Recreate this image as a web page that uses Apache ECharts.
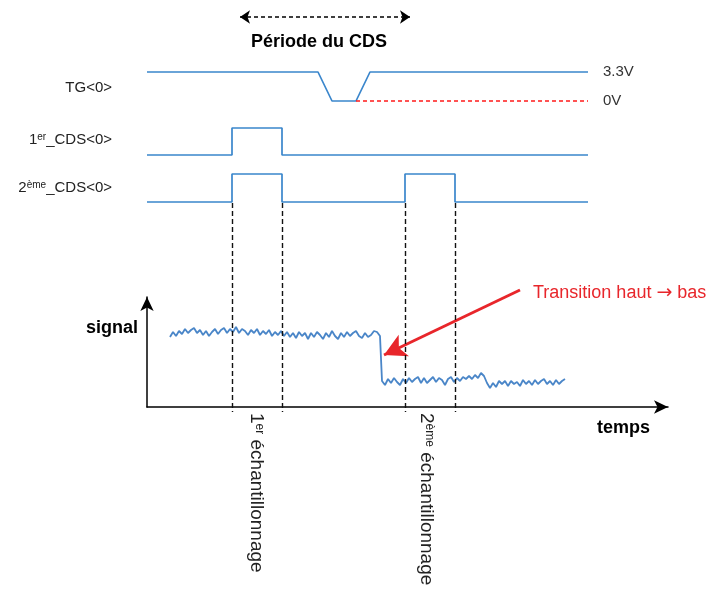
<!DOCTYPE html>
<html>
<head>
<meta charset="utf-8">
<script src="https://cdn.jsdelivr.net/npm/echarts@6/dist/echarts.min.js"></script>
<style>
  html, body { margin: 0; padding: 0; background: #fff; }
  #chart { width: 726px; height: 589px; }
</style>
</head>
<body>
<div id="chart"></div>
<script>
// chronogramme CDS - temps en unités arbitraires (même échelle pour tous les signaux)
var tgTemps = [147, 318, 332, 356, 370, 588];
var tgTension = [3.3, 3.3, 0, 0, 3.3, 3.3];
var zeroRef = [356, 588];

var cds1Temps = [147, 232, 232, 282, 282, 588];
var cds1Etat = [0, 0, 1, 1, 0, 0];

var cds2Temps = [147, 232, 232, 282, 282, 405, 405, 455, 455, 588];
var cds2Etat = [0, 0, 1, 1, 0, 0, 1, 1, 0, 0];

var echantillons = [232, 282, 405, 455];

// signal pixel : niveau haut puis bas, pas de 3
var signalHautDebut = 170;
var signalHaut = [70, 75, 71, 76, 73, 78, 74, 77, 79, 74, 77, 72, 76, 71, 75, 78, 73, 77, 79, 74,
  78, 75, 80, 74, 78, 76, 72, 77, 74, 78, 72, 76, 73, 77, 71, 75, 72, 76, 71, 75,
  70, 74, 69, 75, 71, 74, 68, 74, 70, 75, 72, 68, 74, 70, 76, 71, 68, 74, 70, 75,
  71, 74, 76, 71, 69, 74, 70, 72, 76, 75, 71];
var signalBasDebut = 382;
var signalBas = [26, 22, 28, 24, 29, 25, 22, 28, 24, 29, 25, 28, 30, 24, 29, 24, 27, 30, 25, 29,
  27, 22, 28, 30, 25, 29, 26, 30, 28, 31, 28, 32, 29, 34, 31, 24, 19, 24, 20, 26,
  23, 26, 21, 26, 23, 25, 21, 27, 23, 26, 22, 27, 23, 26, 28, 23, 26, 22, 27, 23,
  26, 28];
var pas = 3;

function paires(xs, ys) {
    return xs.map(function (x, i) { return [x, ys[i]]; });
}

var signalData = [];
signalHaut.forEach(function (v, i) { signalData.push([signalHautDebut + i * pas, v]); });
signalBas.forEach(function (v, i) { signalData.push([signalBasDebut + i * pas, v]); });

var bleu = '#3A86CC';
var rouge = '#E8262B';
var police = '"Liberation Sans", Arial, sans-serif';

var myChart = echarts.init(document.getElementById('chart'));
var option = {
    backgroundColor: '#fff',
    animation: false,
    grid: [
        {left: 0, right: 138, top: 72, height: 29},
        {left: 0, right: 138, top: 128, height: 27},
        {left: 0, right: 138, top: 174, height: 28},
        {left: 147, right: 58, top: 297, height: 110},
        {left: 0, right: 0, top: 0, bottom: 0}
    ],
    xAxis: [
        {gridIndex: 0, type: 'value', min: 0, max: 588, show: false},
        {gridIndex: 1, type: 'value', min: 0, max: 588, show: false},
        {gridIndex: 2, type: 'value', min: 0, max: 588, show: false},
        {
            gridIndex: 3, type: 'value', min: 147, max: 668,
            axisLine: {show: true, symbol: ['none', 'arrow'], symbolSize: [10, 14], lineStyle: {color: '#000', width: 1.5}},
            axisTick: {show: false}, axisLabel: {show: false}, splitLine: {show: false}
        },
        {gridIndex: 4, type: 'value', min: 0, max: 726, show: false}
    ],
    yAxis: [
        {
            gridIndex: 0, type: 'value', min: 0, max: 3.3, interval: 3.3, position: 'right',
            axisLine: {show: false}, axisTick: {show: false}, splitLine: {show: false},
            axisLabel: {
                margin: 15, color: '#333', fontSize: 15, fontFamily: police,
                formatter: function (v) { return v === 0 ? '0V' : '3.3V'; }
            }
        },
        {gridIndex: 1, type: 'value', min: 0, max: 1, show: false},
        {gridIndex: 2, type: 'value', min: 0, max: 1, show: false},
        {
            gridIndex: 3, type: 'value', min: 0, max: 110,
            axisLine: {show: true, symbol: ['none', 'arrow'], symbolSize: [10, 14], lineStyle: {color: '#000', width: 1.5}},
            axisTick: {show: false}, axisLabel: {show: false}, splitLine: {show: false}
        },
        {gridIndex: 4, type: 'value', min: 0, max: 589, inverse: true, show: false}
    ],
    series: [
        {
            name: 'TG<0>', type: 'line', xAxisIndex: 0, yAxisIndex: 0, clip: false,
            data: paires(tgTemps, tgTension), symbol: 'none',
            lineStyle: {color: bleu, width: 1.7}
        },
        {
            name: '0V', type: 'line', xAxisIndex: 0, yAxisIndex: 0, clip: false,
            data: zeroRef.map(function (t) { return [t, 0]; }), symbol: 'none',
            lineStyle: {color: '#FF1A1A', width: 1.5, type: [4, 3]}
        },
        {
            name: '1er_CDS<0>', type: 'line', xAxisIndex: 1, yAxisIndex: 1, clip: false,
            data: paires(cds1Temps, cds1Etat), symbol: 'none',
            lineStyle: {color: bleu, width: 1.7}
        },
        {
            name: '2ème_CDS<0>', type: 'line', xAxisIndex: 2, yAxisIndex: 2, clip: false,
            data: paires(cds2Temps, cds2Etat), symbol: 'none',
            lineStyle: {color: bleu, width: 1.7}
        },
        {
            name: 'signal', type: 'line', xAxisIndex: 3, yAxisIndex: 3, clip: false,
            data: signalData, symbol: 'none',
            lineStyle: {color: '#4A86C8', width: 1.8}
        },
        {
            name: 'annotations', type: 'line', xAxisIndex: 4, yAxisIndex: 4, data: [],
            markLine: {
                silent: true, animation: false,
                label: {show: false},
                emphasis: {disabled: true},
                data: [
                    [
                        {coord: [240, 17], symbol: 'arrow', symbolSize: 10, lineStyle: {color: '#000', width: 1.5, type: [4, 3]}},
                        {coord: [410, 17], symbol: 'arrow', symbolSize: 10}
                    ],
                    [
                        {coord: [520, 290], symbol: 'none', lineStyle: {color: rouge, width: 3, type: 'solid'}},
                        {coord: [384, 355], symbol: 'arrow', symbolSize: [18, 22]}
                    ]
                ].concat(echantillons.map(function (t) {
                    return [
                        {coord: [t, 203], symbol: 'none', lineStyle: {color: '#111', width: 1.4, type: [5, 3]}},
                        {coord: [t, 412], symbol: 'none'}
                    ];
                }))
            }
        }
    ],
    graphic: [
        {type: 'text', x: 319, y: 42, style: {text: 'Période du CDS', font: 'bold 18px ' + police, fill: '#000', align: 'center', verticalAlign: 'middle'}},
        {type: 'text', x: 112, y: 88, style: {text: 'TG<0>', font: '15px ' + police, fill: '#222', align: 'right', verticalAlign: 'middle'}},
        {type: 'text', x: 112, y: 140, style: {
            text: '1{s|er}_CDS<0>', font: '15px ' + police, fill: '#222', align: 'right', verticalAlign: 'middle',
            rich: {s: {fontSize: 10, fontFamily: police, fill: '#222', verticalAlign: 'top', lineHeight: 12}}
        }},
        {type: 'text', x: 112, y: 188, style: {
            text: '2{s|ème}_CDS<0>', font: '15px ' + police, fill: '#222', align: 'right', verticalAlign: 'middle',
            rich: {s: {fontSize: 10, fontFamily: police, fill: '#222', verticalAlign: 'top', lineHeight: 12}}
        }},
        {type: 'text', x: 138, y: 328, style: {text: 'signal', font: 'bold 18px ' + police, fill: '#000', align: 'right', verticalAlign: 'middle'}},
        {type: 'text', x: 597, y: 428, style: {text: 'temps', font: 'bold 18px ' + police, fill: '#000', align: 'left', verticalAlign: 'middle'}},
        {type: 'text', x: 533, y: 293, style: {
            text: 'Transition haut {a|→} bas', font: '18px ' + police, fill: rouge, align: 'left', verticalAlign: 'middle',
            rich: {a: {fontSize: 19, fontFamily: '"DejaVu Sans", sans-serif', fill: rouge}}
        }},
        {type: 'text', x: 256, y: 413, rotation: -Math.PI / 2, style: {
            text: '1{s|er} échantillonnage', font: '19px ' + police, fill: '#222', align: 'left', verticalAlign: 'middle',
            rich: {s: {fontSize: 12, fontFamily: police, fill: '#222', verticalAlign: 'top', lineHeight: 14}}
        }},
        {type: 'text', x: 426, y: 413, rotation: -Math.PI / 2, style: {
            text: '2{s|ème} échantillonnage', font: '19px ' + police, fill: '#222', align: 'left', verticalAlign: 'middle',
            rich: {s: {fontSize: 12, fontFamily: police, fill: '#222', verticalAlign: 'top', lineHeight: 14}}
        }}
    ]
};
myChart.setOption(option);
</script>
</body>
</html>
